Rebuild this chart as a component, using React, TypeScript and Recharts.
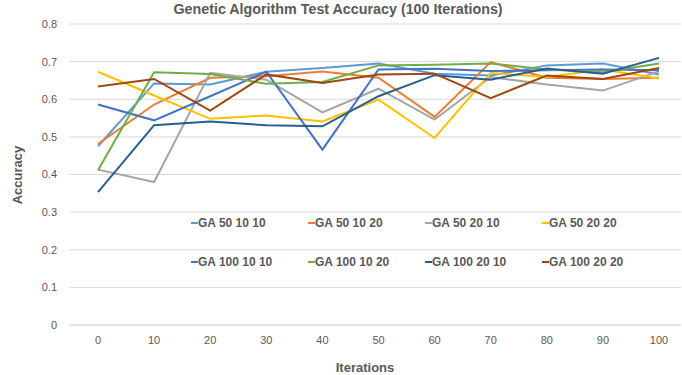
import React from 'react';
import { LineChart, Line, XAxis, YAxis, CartesianGrid } from 'recharts';

const iterations = [0, 10, 20, 30, 40, 50, 60, 70, 80, 90, 100];
const yTicks = [0, 0.1, 0.2, 0.3, 0.4, 0.5, 0.6, 0.7, 0.8];

const ga50_10_10 = [0.475, 0.642, 0.639, 0.673, 0.683, 0.695, 0.668, 0.663, 0.69, 0.695, 0.666];
const ga50_10_20 = [0.481, 0.586, 0.657, 0.661, 0.674, 0.657, 0.553, 0.699, 0.657, 0.654, 0.657];
const ga50_20_10 = [0.413, 0.38, 0.67, 0.652, 0.565, 0.628, 0.546, 0.659, 0.639, 0.623, 0.674];
const ga50_20_20 = [0.673, 0.61, 0.548, 0.557, 0.541, 0.599, 0.497, 0.67, 0.659, 0.679, 0.655];
const ga100_10_10 = [0.586, 0.544, 0.608, 0.673, 0.466, 0.679, 0.681, 0.675, 0.677, 0.679, 0.677];
const ga100_10_20 = [0.411, 0.672, 0.667, 0.641, 0.646, 0.69, 0.692, 0.695, 0.679, 0.672, 0.695];
const ga100_20_10 = [0.353, 0.531, 0.541, 0.531, 0.528, 0.608, 0.664, 0.652, 0.682, 0.668, 0.71];
const ga100_20_20 = [0.634, 0.654, 0.57, 0.666, 0.643, 0.666, 0.668, 0.603, 0.663, 0.654, 0.683];

const seriesNames = [
  'GA 50 10 10', 'GA 50 10 20', 'GA 50 20 10', 'GA 50 20 20',
  'GA 100 10 10', 'GA 100 10 20', 'GA 100 20 10', 'GA 100 20 20',
];
const seriesValues = [
  ga50_10_10, ga50_10_20, ga50_20_10, ga50_20_20,
  ga100_10_10, ga100_10_20, ga100_20_10, ga100_20_20,
];
const seriesColors = [
  '#5B9BD5', '#ED7D31', '#A5A5A5', '#FFC000',
  '#4472C4', '#70AD47', '#255E91', '#9E480E',
];

const data = iterations.map((it, i) => {
  const row: Record<string, number | string> = { iter: String(it) };
  seriesNames.forEach((n, s) => {
    row[n] = seriesValues[s][i];
  });
  return row;
});

const FONT = '"Liberation Sans", Arial, sans-serif';
const TXT = '#595959';

export default function App() {
  return (
    <div style={{ position: 'relative', width: 682, height: 375, background: '#fff', fontFamily: FONT }}>
      <style>{'body{margin:0;}'}</style>
      <LineChart width={682} height={375} data={data} margin={{ top: 24, right: 1, bottom: 0, left: 0 }}>
        <CartesianGrid vertical={false} stroke="#D9D9D9" strokeWidth={1} />
        <XAxis
          dataKey="iter"
          height={50}
          padding={{ left: 29, right: 22 }}
          axisLine={{ stroke: '#D9D9D9' }}
          tickLine={false}
          tickSize={0}
          tickMargin={11}
          tick={{ fill: TXT, fontSize: 11, fontFamily: FONT }}
          interval={0}
        />
        <YAxis
          width={69}
          domain={[0, 0.8]}
          ticks={yTicks}
          axisLine={false}
          tickLine={false}
          tickSize={0}
          tickMargin={12}
          tick={{ fill: TXT, fontSize: 11, fontFamily: FONT }}
          tickFormatter={(v: number) => (v === 0 ? '0' : v.toFixed(1))}
        />
        {seriesNames.map((n, s) => (
          <Line
            key={n}
            type="linear"
            dataKey={n}
            stroke={seriesColors[s]}
            strokeWidth={2}
            dot={false}
            isAnimationActive={false}
          />
        ))}
      </LineChart>
      <div style={{ position: 'absolute', left: -3, top: 0, width: 682, textAlign: 'center', fontSize: 14.3, fontWeight: 'bold', color: TXT, lineHeight: '18px' }}>
        Genetic Algorithm Test Accuracy (100 Iterations)
      </div>
      <div style={{ position: 'absolute', left: 17, top: 175, transform: 'translate(-50%, -50%) rotate(-90deg)', fontSize: 13, fontWeight: 'bold', color: TXT, whiteSpace: 'nowrap' }}>
        Accuracy
      </div>
      <div style={{ position: 'absolute', left: 365, top: 367, transform: 'translate(-50%, -50%)', fontSize: 13, fontWeight: 'bold', color: TXT, whiteSpace: 'nowrap' }}>
        Iterations
      </div>
      {seriesNames.map((n, s) => (
        <div
          key={n}
          style={{
            position: 'absolute',
            left: 191 + (s % 4) * 117,
            top: (s < 4 ? 223 : 262) - 8,
            height: 16,
            display: 'flex',
            alignItems: 'center',
            fontSize: 12,
            fontWeight: 'bold',
            color: TXT,
            whiteSpace: 'nowrap',
          }}
        >
          <span style={{ display: 'inline-block', width: 7, height: 2, background: seriesColors[s] }} />
          <span>{n}</span>
        </div>
      ))}
    </div>
  );
}
